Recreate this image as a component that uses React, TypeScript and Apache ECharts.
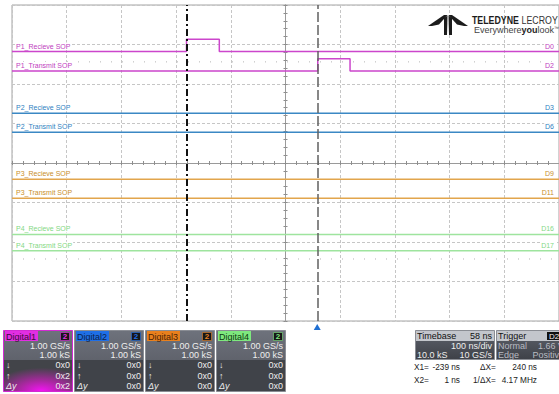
import React, { useEffect, useRef } from "react";
import * as echarts from "echarts";

// Horizontal scale: 100 ns/div over 10 divisions, 58 ns delay
const timeStart = -558;
const timeEnd = 442;

const channelNames = [
  "P1_Recieve SOP",
  "P1_Transmit SOP",
  "P2_Recieve SOP",
  "P2_Transmit SOP",
  "P3_Recieve SOP",
  "P3_Transmit SOP",
  "P4_Recieve SOP",
  "P4_Transmit SOP",
];
const channelTags = ["D0", "D2", "D3", "D6", "D9", "D11", "D16", "D17"];

// logic-high interval of each line in ns (null = stays low)
const pulseStart: (number | null)[] = [-239, 1, null, null, null, null, null, null];
const pulseEnd: (number | null)[] = [-179, 60, null, null, null, null, null, null];

const cursorTimes = [-239, 1];
const triggerTime = 0;

// lane layout, in divisions from the bottom of the graticule
const laneBase = [6.82, 6.33, 5.26, 4.78, 3.59, 3.11, 2.19, 1.78];
const highOffset = 0.31;
const dotRows = [6.56, 1.57];

const traceColors = ["#cc46cc", "#cc46cc", "#3b88c4", "#3b88c4", "#e2a54c", "#e2a54c", "#9ee49e", "#9ee49e"];
const labelColors = ["#c03ec0", "#c03ec0", "#2f7fbf", "#2f7fbf", "#c88e2c", "#c88e2c", "#84d884", "#84d884"];

// channel descriptor boxes
const digitalNames = ["Digital1", "Digital2", "Digital3", "Digital4"];
const digitalRates = ["1.00 GS/s", "1.00 GS/s", "1.00 GS/s", "1.00 GS/s"];
const digitalSamples = ["1.00 kS", "1.00 kS", "1.00 kS", "1.00 kS"];
const fallingCounts = ["0x0", "0x0", "0x0", "0x0"];
const risingCounts = ["0x2", "0x0", "0x0", "0x0"];
const deltaCounts = ["0x2", "0x0", "0x0", "0x0"];
const digitalTagColors = ["#e22ee2", "#1f6fe6", "#e8801e", "#7ee87e"];
const digitalTagText = ["#3a0a3a", "#0c1f4a", "#4a1f05", "#0f3a0f"];

const timebaseDelay = "58 ns";
const timebaseScale = "100 ns/div";
const timebaseSamples = "10.0 kS";
const timebaseRate = "10 GS/s";
const triggerSource = "D2";
const triggerMode = "Normal";
const triggerLevel = "1.66 V";
const triggerType = "Edge";
const triggerSlope = "Positive";

const FONT = '"Liberation Sans", Arial, "DejaVu Sans", sans-serif';
const font = (size: number, weight = "normal", style = "normal") =>
  `${style} ${weight} ${size}px ${FONT}`;

function tracePoints(i: number) {
  const base = laneBase[i];
  const pts: number[][] = [[timeStart, base]];
  const s = pulseStart[i];
  const e = pulseEnd[i];
  if (s != null && e != null) {
    pts.push([s, base], [s, base + highOffset], [e, base + highOffset], [e, base]);
  }
  pts.push([timeEnd, base]);
  return pts;
}

function txt(x: number, y: number, text: string, opts: any = {}) {
  return {
    type: "text",
    x,
    y,
    silent: true,
    z: 20,
    scaleX: opts.scaleX || 1,
    style: {
      text,
      fill: opts.fill || "#eeeeee",
      font: opts.font || font(9),
      align: opts.align || "left",
      verticalAlign: "middle",
    },
  };
}

function buildGraphics() {
  const els: any[] = [];
  const panelX = [3, 74, 145, 216];

  digitalNames.forEach((name, i) => {
    const x0 = panelX[i];
    const selected = i === 0;
    els.push({
      type: "rect",
      z: 10,
      shape: { x: x0 + 0.5, y: 330.5, width: 69, height: 61 },
      style: {
        fill: new echarts.graphic.LinearGradient(0, 0, 0, 1, [
          { offset: 0, color: "#6e727c" },
          { offset: 1, color: "#50535b" },
        ]),
        stroke: selected ? "#d22ad2" : "#8a8d94",
        lineWidth: 1,
      },
    });
    els.push({
      type: "rect",
      z: 11,
      shape: { x: x0 + 1, y: 360, width: 68, height: 31 },
      style: {
        fill: selected
          ? new echarts.graphic.RadialGradient(0.55, 1, 0.75, [
              { offset: 0, color: "#f414f4" },
              { offset: 0.45, color: "#a8289f" },
              { offset: 1, color: "#424449" },
            ])
          : "#404349",
      },
    });
    els.push({
      type: "rect",
      z: 12,
      shape: { x: x0 + 2, y: 331, width: 33, height: 10 },
      style: { fill: digitalTagColors[i] },
    });
    els.push(txt(x0 + 3, 336.5, name, { fill: digitalTagText[i] }));
    els.push({
      type: "rect",
      z: 12,
      shape: { x: x0 + 57.5, y: 332.5, width: 9, height: 8 },
      style: { fill: "#161616", stroke: digitalTagColors[i], lineWidth: 0.6 },
    });
    els.push(txt(x0 + 62, 336.8, "2", { fill: digitalTagColors[i], align: "center", font: font(8, "bold") }));
    els.push(txt(x0 + 67, 346, digitalRates[i], { align: "right" }));
    els.push(txt(x0 + 67, 355, digitalSamples[i], { align: "right" }));
    els.push(txt(x0 + 3, 365, "↓", {}));
    els.push(txt(x0 + 67, 365, fallingCounts[i], { align: "right" }));
    els.push(txt(x0 + 3, 375.5, "↑", {}));
    els.push(txt(x0 + 67, 375.5, risingCounts[i], { align: "right" }));
    els.push(txt(x0 + 3, 385.5, "Δy", { font: font(9, "normal", "italic") }));
    els.push(txt(x0 + 67, 385.5, deltaCounts[i], { align: "right" }));
  });

  // timebase and trigger boxes
  const boxes = [
    { x: 415, w: 79 },
    { x: 496, w: 72 },
  ];
  boxes.forEach((b) => {
    els.push({
      type: "rect",
      z: 10,
      shape: { x: b.x + 0.5, y: 330.5, width: b.w, height: 29 },
      style: {
        fill: new echarts.graphic.LinearGradient(0, 0, 0, 1, [
          { offset: 0, color: "#5e626c" },
          { offset: 1, color: "#3e4148" },
        ]),
        stroke: "#8a8d94",
        lineWidth: 1,
      },
    });
    els.push({
      type: "rect",
      z: 11,
      shape: { x: b.x + 1, y: 331, width: b.w - 1, height: 10 },
      style: { fill: "#c3c6cc" },
    });
  });
  els.push(txt(417, 336, "Timebase", { fill: "#111" }));
  els.push(txt(492, 336, timebaseDelay, { fill: "#111", align: "right" }));
  els.push(txt(492, 346, timebaseScale, { align: "right" }));
  els.push(txt(417, 355, timebaseSamples, {}));
  els.push(txt(492, 355, timebaseRate, { align: "right" }));
  els.push(txt(498, 336, "Trigger", { fill: "#111" }));
  els.push({
    type: "rect",
    z: 12,
    shape: { x: 547, y: 332, width: 14, height: 8 },
    style: { fill: "#101010" },
  });
  els.push(txt(549, 336.3, triggerSource, { fill: "#f0f0f0", font: font(8) }));
  els.push(txt(498, 346, triggerMode, { fill: "#b8bbc2" }));
  els.push(txt(564, 346, triggerLevel, { align: "right", fill: "#b8bbc2" }));
  els.push(txt(498, 355, triggerType, { fill: "#b8bbc2" }));
  els.push(txt(564, 355, triggerSlope, { align: "right", fill: "#b8bbc2" }));

  // cursor readouts
  const dx = cursorTimes[1] - cursorTimes[0];
  const invMHz = 1000 / dx;
  const rd = { fill: "#222", font: font(9), scaleX: 0.92 };
  els.push(txt(414, 367, "X1=", rd));
  els.push(txt(460, 367, `${cursorTimes[0]} ns`, { ...rd, align: "right" }));
  els.push(txt(480, 367, "ΔX=", rd));
  els.push(txt(537, 367, `${dx} ns`, { ...rd, align: "right" }));
  els.push(txt(414, 380, "X2=", rd));
  els.push(txt(460, 380, `${cursorTimes[1]} ns`, { ...rd, align: "right" }));
  els.push(txt(473, 380, "1/ΔX=", rd));
  els.push(txt(537, 380, `${invMHz.toFixed(2)} MHz`, { ...rd, align: "right" }));

  // brand mark
  const logo = [
    [[428, 26], [444, 15], [447.5, 15], [439, 24.5], [432, 26]],
    [[468, 26], [452, 15], [448.5, 15], [457, 24.5], [464, 26]],
    [[444, 18], [447.5, 15.5], [447, 35], [444, 35]],
    [[448.5, 15.5], [452, 18], [452, 35], [449, 35]],
  ];
  logo.forEach((pts) =>
    els.push({ type: "polygon", z: 10, silent: true, shape: { points: pts }, style: { fill: "#1c1c1c" } })
  );
  els.push({
    type: "text",
    x: 472,
    y: 20,
    z: 10,
    scaleX: 0.8,
    silent: true,
    style: {
      text: "{b|TELEDYNE} {r|LECROY}",
      verticalAlign: "middle",
      rich: {
        b: { font: `bold 11px ${FONT}`, fill: "#1c1c1c" },
        r: { font: `normal 11px ${FONT}`, fill: "#333" },
      },
    },
  });
  els.push({
    type: "text",
    x: 474,
    y: 30,
    z: 10,
    silent: true,
    style: {
      text: "{r|Everywhere}{b|you}{r|look}{t|™}",
      verticalAlign: "middle",
      rich: {
        r: { font: font(9), fill: "#444" },
        b: { font: font(9, "bold"), fill: "#222" },
        t: { font: font(5), fill: "#444", verticalAlign: "top" },
      },
    },
  });
  return els;
}

function buildOption() {
  const divAxisBase = {
    type: "value",
    interval: 1,
    axisLabel: { show: false },
    minorTick: { show: true, splitNumber: 5, length: 2, lineStyle: { color: "#8e8e8e" } },
    axisTick: { show: true, length: 2, lineStyle: { color: "#8e8e8e" } },
    axisLine: { show: true, onZero: true, onZeroAxisIndex: 1, lineStyle: { color: "#9a9a9a", width: 1 } },
    splitLine: { show: false },
  };

  const series: any[] = [];

  dotRows.forEach((row) => {
    series.push({
      type: "line",
      xAxisIndex: 0,
      yAxisIndex: 0,
      silent: true,
      symbol: "none",
      data: [
        [timeStart, row],
        [timeEnd, row],
      ],
      lineStyle: { color: "#b4b4b4", width: 1, type: [1, 10] },
      z: 2,
    });
  });

  channelNames.forEach((name, i) => {
    const s: any = {
      type: "line",
      name,
      xAxisIndex: 0,
      yAxisIndex: 0,
      silent: true,
      symbol: "none",
      data: tracePoints(i),
      lineStyle: { color: traceColors[i], width: 1.5 },
      z: 3,
      markPoint: {
        silent: true,
        symbol: "circle",
        symbolSize: 0,
        data: [
          {
            coord: [timeStart, laneBase[i]],
            label: {
              show: true,
              formatter: name,
              position: [3, -5.5],
              align: "left",
              verticalAlign: "middle",
              color: labelColors[i],
              fontSize: 7,
              fontFamily: FONT,
              backgroundColor: "#ffffff",
              padding: [0, 1],
            },
          },
          {
            coord: [timeEnd, laneBase[i]],
            label: {
              show: true,
              formatter: channelTags[i],
              position: [-4, -5.5],
              align: "right",
              verticalAlign: "middle",
              color: labelColors[i],
              fontSize: 7,
              fontFamily: FONT,
              backgroundColor: "#ffffff",
              padding: [0, 1],
            },
          },
        ],
      },
    };
    if (i === 0) {
      s.markLine = {
        silent: true,
        symbol: "none",
        label: { show: false },
        data: [
          { xAxis: cursorTimes[0], lineStyle: { color: "#111111", width: 2, type: [7, 3, 2, 3] } },
          { xAxis: cursorTimes[1], lineStyle: { color: "#606060", width: 1.5, type: [10, 3] } },
        ],
      };
    }
    if (i === 1) {
      s.markPoint.data.push({
        coord: [triggerTime, 0],
        symbol: "triangle",
        symbolSize: [7, 6],
        symbolOffset: [0, 6],
        itemStyle: { color: "#1f6fd2" },
        label: { show: false },
      });
    }
    series.push(s);
  });

  return {
    animation: false,
    backgroundColor: "#ffffff",
    grid: {
      left: 12,
      top: 5,
      right: -3,
      bottom: 73,
      show: true,
      borderColor: "#a4a4a4",
      borderWidth: 1,
      backgroundColor: "transparent",
    },
    xAxis: [
      { type: "value", min: timeStart, max: timeEnd, show: false },
      {
        ...divAxisBase,
        min: -5,
        max: 5,
        position: "bottom",
        splitLine: { show: true, lineStyle: { color: "#c6c6c6", type: [3, 2], width: 1 } },
      },
      {
        ...divAxisBase,
        min: -5,
        max: 5,
        position: "bottom",
        axisTick: { ...divAxisBase.axisTick, inside: true },
        minorTick: { ...divAxisBase.minorTick },
      },
    ],
    yAxis: [
      { type: "value", min: 0, max: 8, show: false },
      {
        ...divAxisBase,
        min: -4,
        max: 4,
        position: "left",
        splitLine: { show: true, lineStyle: { color: "#c6c6c6", type: [3, 2], width: 1 } },
      },
      {
        ...divAxisBase,
        min: -4,
        max: 4,
        position: "left",
        axisTick: { ...divAxisBase.axisTick, inside: true },
      },
    ],
    series,
    graphic: buildGraphics(),
  };
}

export default function App() {
  const ref = useRef<HTMLDivElement>(null);
  useEffect(() => {
    if (!ref.current) return;
    const chart = echarts.init(ref.current, undefined, { renderer: "svg" });
    chart.setOption(buildOption() as any);
    return () => chart.dispose();
  }, []);
  return (
    <div
      ref={ref}
      style={{ position: "fixed", left: 0, top: 0, width: 559, height: 394, background: "#fff" }}
    />
  );
}
